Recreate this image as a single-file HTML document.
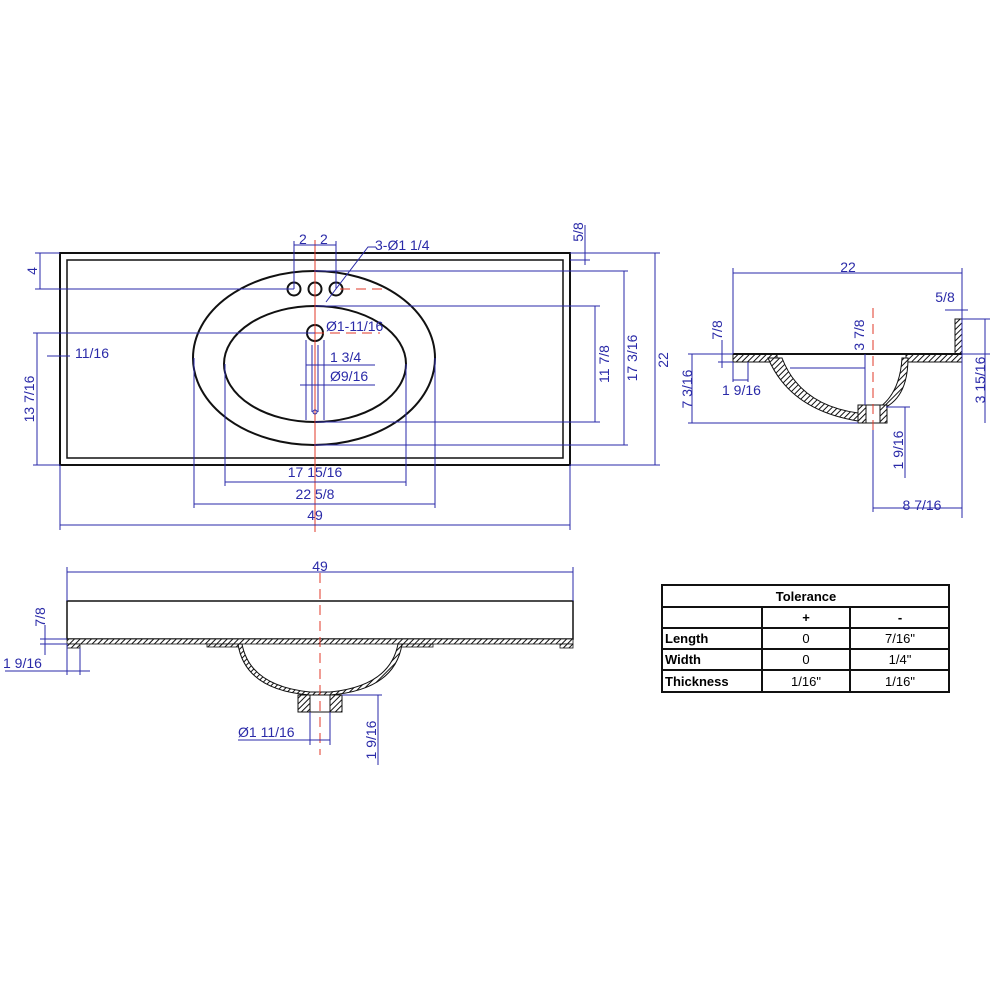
<!DOCTYPE html>
<html><head><style>
body{margin:0;background:#fff}
svg{display:block}
.b{stroke:#2a2aa8;stroke-width:1;fill:none}
.k{stroke:#111;stroke-width:2;fill:none}
.r{stroke:#e23a2a;stroke-width:1;stroke-dasharray:10 6;fill:none}
text{font-family:"Liberation Sans",sans-serif}
.t{fill:#2a2aa8;font-size:14px}
.tb{font-size:13px;fill:#000;font-weight:bold}
.tn{font-size:13px;fill:#000}
</style></head><body>
<svg width="1000" height="1000" viewBox="0 0 1000 1000">
<defs>
<pattern id="h" width="4" height="4" patternUnits="userSpaceOnUse" patternTransform="rotate(45)"><rect width="4" height="4" fill="#fff"/><line x1="0" y1="0" x2="0" y2="4" stroke="#111" stroke-width="2"/></pattern>
</defs>
<!-- TOP VIEW -->
<rect x="60" y="253" width="510" height="212" class="k"/>
<rect x="67" y="260" width="496" height="198" stroke="#111" stroke-width="1.5" fill="none"/>
<ellipse cx="314" cy="358" rx="121" ry="87" class="k"/>
<ellipse cx="315" cy="364" rx="91" ry="58" class="k"/>
<circle cx="294" cy="289" r="6.5" class="k"/><circle cx="315" cy="289" r="6.5" class="k"/><circle cx="336" cy="289" r="6.5" class="k"/>
<circle cx="315" cy="333" r="8" class="k"/>
<line x1="315" y1="240" x2="315" y2="532" stroke="#e23a2a" stroke-width="1"/>
<line x1="340" y1="289" x2="385" y2="289" class="r"/>
<line x1="250" y1="333" x2="380" y2="333" class="r"/>
<g class="b">
<line x1="60" y1="525" x2="570" y2="525"/><line x1="60" y1="465" x2="60" y2="530"/><line x1="570" y1="465" x2="570" y2="530"/>
<line x1="194" y1="504" x2="435" y2="504"/><line x1="194" y1="358" x2="194" y2="508"/><line x1="435" y1="358" x2="435" y2="508"/>
<line x1="225" y1="482" x2="406" y2="482"/><line x1="225" y1="364" x2="225" y2="486"/><line x1="406" y1="364" x2="406" y2="486"/>
<line x1="570" y1="253" x2="660" y2="253"/><line x1="570" y1="465" x2="660" y2="465"/><line x1="655" y1="253" x2="655" y2="465"/>
<line x1="314" y1="271" x2="628" y2="271"/><line x1="314" y1="445" x2="628" y2="445"/><line x1="624" y1="271" x2="624" y2="445"/>
<line x1="315" y1="306" x2="600" y2="306"/><line x1="315" y1="422" x2="600" y2="422"/><line x1="595" y1="306" x2="595" y2="422"/>
<line x1="585" y1="225" x2="585" y2="265"/><line x1="570" y1="260" x2="590" y2="260"/>
<line x1="35" y1="253" x2="60" y2="253"/><line x1="35" y1="289" x2="294" y2="289"/><line x1="40" y1="253" x2="40" y2="289"/>
<line x1="33" y1="333" x2="315" y2="333"/><line x1="33" y1="465" x2="60" y2="465"/><line x1="37" y1="333" x2="37" y2="465"/>
<line x1="47" y1="356" x2="70" y2="356"/>
<line x1="294" y1="241" x2="294" y2="289"/><line x1="336" y1="241" x2="336" y2="289"/><line x1="294" y1="245" x2="336" y2="245"/>
<polyline points="326,302 368,247 376,247"/>
<line x1="306" y1="365" x2="375" y2="365"/><line x1="300" y1="385" x2="375" y2="385"/>
<line x1="306" y1="340" x2="306" y2="420"/><line x1="324" y1="340" x2="324" y2="420"/><line x1="312" y1="345" x2="312" y2="412"/><line x1="318" y1="345" x2="318" y2="412"/>
</g>
<circle cx="315" cy="412" r="2" class="b"/>
<text class="t" x="315" y="520" text-anchor="middle">49</text>
<text class="t" x="315" y="499" text-anchor="middle">22  5/8</text>
<text class="t" x="315" y="477" text-anchor="middle">17  15/16</text>
<text class="t" x="75" y="358">11/16</text>
<text class="t" x="299" y="244">2</text><text class="t" x="320" y="244">2</text>
<text class="t" x="375" y="250">3-Ø1  1/4</text>
<text class="t" x="326" y="331" font-size="11">Ø1-11/16</text>
<text class="t" x="330" y="362">1  3/4</text>
<text class="t" x="330" y="381">Ø9/16</text>
<text class="t" transform="translate(668,360) rotate(-90)" text-anchor="middle">22</text>
<text class="t" transform="translate(637,358) rotate(-90)" text-anchor="middle">17  3/16</text>
<text class="t" transform="translate(609,364) rotate(-90)" text-anchor="middle">11  7/8</text>
<text class="t" transform="translate(583,232) rotate(-90)" text-anchor="middle">5/8</text>
<text class="t" transform="translate(37,271) rotate(-90)" text-anchor="middle">4</text>
<text class="t" transform="translate(34,399) rotate(-90)" text-anchor="middle">13  7/16</text>
<!-- SIDE VIEW -->
<rect x="733" y="354" width="44" height="8" fill="url(#h)" stroke="#111"/>
<rect x="906" y="354" width="56" height="8" fill="url(#h)" stroke="#111"/>
<rect x="955" y="319" width="7" height="35" fill="url(#h)" stroke="#111"/>
<line x1="733" y1="354" x2="962" y2="354" stroke="#111" stroke-width="2"/>
<path d="M768,358 Q790,410 858,421 L858,413 Q800,405 782,358 Z" fill="url(#h)" stroke="#111"/>
<path d="M908,358 Q908,395 886,407 L880,407 Q900,392 902,358 Z" fill="url(#h)" stroke="#111"/>
<rect x="858" y="405" width="8" height="18" fill="url(#h)" stroke="#111"/>
<rect x="880" y="405" width="7" height="18" fill="url(#h)" stroke="#111"/>
<rect x="866" y="405" width="14" height="18" fill="#fff" stroke="#111"/>
<line x1="873" y1="308" x2="873" y2="430" class="r"/>
<g class="b">
<line x1="733" y1="273" x2="962" y2="273"/><line x1="733" y1="268" x2="733" y2="354"/><line x1="962" y1="268" x2="962" y2="518"/>
<line x1="688" y1="354" x2="733" y2="354"/><line x1="688" y1="423" x2="858" y2="423"/><line x1="692" y1="354" x2="692" y2="423"/>
<line x1="962" y1="319" x2="990" y2="319"/><line x1="962" y1="354" x2="990" y2="354"/><line x1="985" y1="319" x2="985" y2="423"/>
<line x1="886" y1="407" x2="910" y2="407"/><line x1="905" y1="407" x2="905" y2="478"/>
<line x1="873" y1="430" x2="873" y2="512"/><line x1="873" y1="508" x2="962" y2="508"/>
<line x1="945" y1="310" x2="968" y2="310"/>
<line x1="722" y1="340" x2="722" y2="368"/><line x1="718" y1="362" x2="733" y2="362"/>
<line x1="733" y1="362" x2="733" y2="382"/><line x1="748" y1="362" x2="748" y2="382"/><line x1="733" y1="380" x2="748" y2="380"/>
<line x1="865" y1="354" x2="865" y2="405"/><line x1="790" y1="368" x2="865" y2="368"/>
</g>
<text class="t" x="848" y="272" text-anchor="middle">22</text>
<text class="t" x="945" y="302" text-anchor="middle">5/8</text>
<text class="t" x="722" y="395">1  9/16</text>
<text class="t" x="922" y="510" text-anchor="middle">8  7/16</text>
<text class="t" transform="translate(722,330) rotate(-90)" text-anchor="middle">7/8</text>
<text class="t" transform="translate(864,335) rotate(-90)" text-anchor="middle">3  7/8</text>
<text class="t" transform="translate(692,389) rotate(-90)" text-anchor="middle">7  3/16</text>
<text class="t" transform="translate(985,380) rotate(-90)" text-anchor="middle">3  15/16</text>
<text class="t" transform="translate(903,450) rotate(-90)" text-anchor="middle">1  9/16</text>
<!-- FRONT VIEW -->
<rect x="67" y="601" width="506" height="38" fill="none" stroke="#111" stroke-width="1.5"/>
<rect x="67" y="639" width="506" height="5" fill="url(#h)" stroke="#111" stroke-width="0.8"/>
<rect x="67" y="644" width="13" height="4" fill="url(#h)" stroke="#111" stroke-width="0.8"/>
<rect x="560" y="644" width="13" height="4" fill="url(#h)" stroke="#111" stroke-width="0.8"/>
<rect x="207" y="644" width="32" height="3" fill="url(#h)" stroke="#111" stroke-width="0.8"/>
<rect x="401" y="644" width="32" height="3" fill="url(#h)" stroke="#111" stroke-width="0.8"/>
<path d="M238,644 Q245,690 310,695 L330,695 Q395,690 402,644 L398,644 Q390,686 330,692 L310,692 Q250,686 242,644 Z" fill="url(#h)" stroke="#111"/>
<rect x="298" y="695" width="12" height="17" fill="url(#h)" stroke="#111"/>
<rect x="330" y="695" width="12" height="17" fill="url(#h)" stroke="#111"/>
<rect x="310" y="695" width="20" height="17" fill="#fff" stroke="#111"/>
<line x1="320" y1="573" x2="320" y2="755" class="r"/>
<g class="b">
<line x1="67" y1="572" x2="573" y2="572"/><line x1="67" y1="567" x2="67" y2="601"/><line x1="573" y1="567" x2="573" y2="601"/>
<line x1="40" y1="639" x2="67" y2="639"/><line x1="45" y1="625" x2="45" y2="655"/><line x1="40" y1="644" x2="67" y2="644"/>
<line x1="5" y1="671" x2="90" y2="671"/><line x1="67" y1="644" x2="67" y2="675"/><line x1="80" y1="648" x2="80" y2="675"/>
<line x1="342" y1="695" x2="382" y2="695"/><line x1="378" y1="695" x2="378" y2="765"/>
<line x1="238" y1="740" x2="330" y2="740"/><line x1="310" y1="712" x2="310" y2="745"/><line x1="330" y1="712" x2="330" y2="745"/>
</g>
<text class="t" x="320" y="571" text-anchor="middle">49</text>
<text class="t" x="3" y="668">1  9/16</text>
<text class="t" x="238" y="737">Ø1  11/16</text>
<text class="t" transform="translate(45,617) rotate(-90)" text-anchor="middle">7/8</text>
<text class="t" transform="translate(376,740) rotate(-90)" text-anchor="middle">1  9/16</text>
<!-- TABLE -->
<g stroke="#111" stroke-width="2" fill="none">
<rect x="662" y="585" width="287" height="107"/>
<line x1="662" y1="607" x2="949" y2="607"/><line x1="662" y1="628" x2="949" y2="628"/>
<line x1="662" y1="649" x2="949" y2="649"/><line x1="662" y1="670" x2="949" y2="670"/>
<line x1="762" y1="607" x2="762" y2="692"/><line x1="850" y1="607" x2="850" y2="692"/>
</g>
<text class="tb" x="806" y="601" text-anchor="middle">Tolerance</text>
<text class="tb" x="806" y="622" text-anchor="middle">+</text>
<text class="tb" x="900" y="622" text-anchor="middle">-</text>
<text class="tb" x="665" y="643">Length</text><text class="tn" x="806" y="643" text-anchor="middle">0</text><text class="tn" x="900" y="643" text-anchor="middle">7/16"</text>
<text class="tb" x="665" y="664">Width</text><text class="tn" x="806" y="664" text-anchor="middle">0</text><text class="tn" x="900" y="664" text-anchor="middle">1/4"</text>
<text class="tb" x="665" y="686">Thickness</text><text class="tn" x="806" y="686" text-anchor="middle">1/16"</text><text class="tn" x="900" y="686" text-anchor="middle">1/16"</text>
</svg>
</body></html>
